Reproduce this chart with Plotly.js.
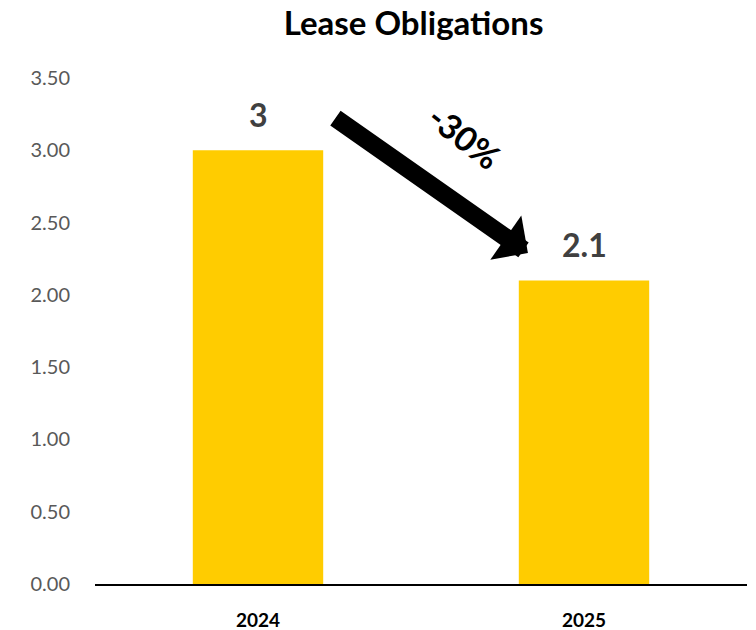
<!DOCTYPE html>
<html>
<head>
<meta charset="utf-8">
<script src="https://cdn.plot.ly/plotly-3.0.1.min.js"></script>
<style>html,body{margin:0;padding:0;background:#fff;}#chart{width:756px;height:630px;}</style>
</head>
<body>
<div id="chart"></div>
<script>
const categories = ["2024", "2025"];
const values = [3, 2.1];
const yTickValues = [0, 0.5, 1, 1.5, 2, 2.5, 3, 3.5];
const changeLabel = "-30%";
const chartTitle = "Lease Obligations";

const FONT = "Lato, 'Open Sans', sans-serif";

const trace = {
  type: "bar",
  x: categories,
  y: values,
  marker: {color: "#FFCC00"},
  width: 0.4,
  hoverinfo: "none"
};

const valueLabels = categories.map((c, i) => ({
  x: i, y: values[i], xref: "x", yref: "y",
  text: String(values[i]),
  showarrow: false, xanchor: "center", yanchor: "bottom", yshift: 14,
  font: {family: FONT, size: 32, color: "#404040", weight: "bold"}
}));

const layout = {
  width: 756, height: 630,
  margin: {l: 95, r: 9, t: 78, b: 46},
  paper_bgcolor: "#ffffff", plot_bgcolor: "#ffffff",
  showlegend: false,
  title: {
    text: chartTitle,
    font: {family: FONT, size: 33, color: "#000000", weight: "bold"},
    x: 0.547, xanchor: "center", y: 0.962, yanchor: "middle"
  },
  xaxis: {
    type: "category", range: [-0.5, 1.5],
    showline: true, linecolor: "#000000", linewidth: 2,
    ticks: "outside", ticklen: 18, tickcolor: "rgba(0,0,0,0)",
    showgrid: false, zeroline: false,
    tickfont: {family: FONT, size: 19, color: "#000000", weight: "bold"}
  },
  yaxis: {
    range: [0, 3.5], tickvals: yTickValues, tickformat: ".2f",
    showline: false, showgrid: false, zeroline: false,
    ticks: "outside", ticklen: 20, tickcolor: "rgba(0,0,0,0)",
    tickfont: {family: FONT, size: 20, color: "#595959"}
  },
  annotations: valueLabels.concat([
    {
      x: 0.664, y: 0.654, xref: "paper", yref: "paper",
      ax: -194, ay: -136,
      showarrow: true, arrowhead: 1, arrowsize: 0.5, arrowwidth: 18,
      arrowcolor: "#000000", standoff: 0, startstandoff: 0, text: ""
    },
    {
      x: 0.5675, y: 0.885, xref: "paper", yref: "paper",
      xanchor: "center", yanchor: "middle",
      text: changeLabel, showarrow: false, textangle: 38,
      font: {family: FONT, size: 34, color: "#000000", weight: "bold"}
    }
  ])
};

Plotly.newPlot("chart", [trace], layout, {displayModeBar: false, staticPlot: true});
</script>
</body>
</html>
